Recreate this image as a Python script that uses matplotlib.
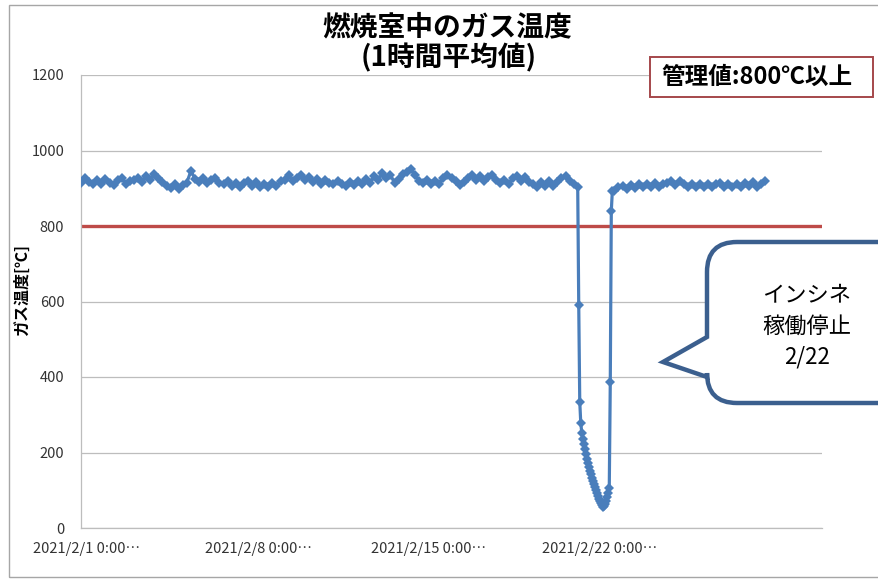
import matplotlib
matplotlib.use("Agg")
import matplotlib.pyplot as plt
from matplotlib.patches import Rectangle, PathPatch
from matplotlib.path import Path
from matplotlib.transforms import ScaledTranslation
import pandas as pd

plt.rcParams['font.family'] = ['Noto Sans CJK JP', 'DejaVu Sans']

# hourly-average gas temperature, hours counted from 2021/2/1 0:00
hours_before = list(range(0, 489, 4))
temp_before = [
    915, 926, 916, 910, 922, 912, 924, 914, 909, 921, 927, 912, 920, 922, 928, 916,
    932, 922, 938, 926, 916, 906, 900, 912, 898, 908, 915, 946, 925, 916, 926, 913,
    922, 928, 915, 910, 920, 906, 915, 904, 914, 920, 907, 916, 903, 912, 904, 914,
    906, 918, 922, 934, 918, 928, 936, 922, 931, 916, 924, 912, 922, 914, 910, 920,
    911, 906, 916, 908, 920, 912, 924, 914, 932, 922, 940, 926, 936, 914, 924, 938,
    944, 950, 936, 920, 914, 922, 910, 920, 912, 928, 936, 926, 920, 908, 916, 928,
    934, 922, 932, 918, 930, 936, 922, 914, 922, 912, 926, 932, 918, 930, 916, 910,
    904, 916, 907, 918, 906, 916, 928, 932, 920, 912, 904,
]
hours_stop = list(range(489, 523))
temp_stop = [
    592, 335, 278, 252, 236, 222, 208, 196, 184, 172, 162, 152, 142, 133, 124, 116,
    108, 100, 92, 85, 78, 72, 66, 60, 56, 58, 64, 72, 82, 94, 106, 388, 840, 892,
]
hours_after = list(range(524, 673, 4))
temp_after = [
    894, 902, 906, 898, 908, 900, 910, 902, 912, 903, 914, 904, 912, 914, 920, 908,
    918, 910, 904, 912, 902, 910, 903, 912, 902, 910, 914, 904, 912, 902, 912, 904,
    914, 906, 916, 904, 912, 920,
]

limit_value = 800
tick_dates = ['2021-02-01', '2021-02-08', '2021-02-15', '2021-02-22']
tick_labels = ['2021/2/1 0:00…', '2021/2/8 0:00…', '2021/2/15 0:00…', '2021/2/22 0:00…']

start = pd.Timestamp('2021-02-01 00:00')
hours = hours_before + hours_stop + hours_after
temps = temp_before + temp_stop + temp_after
times = start + pd.to_timedelta(hours, unit='h')

W, H = 879, 579
fig = plt.figure(figsize=(W / 100, H / 100), dpi=100)
ax = fig.add_axes([81 / W, 1 - 528 / H, (822 - 81) / W, (528 - 75) / H])

ax.plot(times, temps, color='#4a7ebb', lw=2.3, marker='D', ms=5.0,
        markeredgewidth=0, zorder=3)
ax.axhline(limit_value, color='#be4b48', lw=2.4, zorder=2)

ax.set_ylim(0, 1200)
ax.set_yticks(range(0, 1201, 200))
ax.set_xlim(start, start + pd.Timedelta(hours=728))
ax.set_xticks([pd.Timestamp(d) for d in tick_dates])
ax.set_xticklabels(tick_labels)
ax.grid(axis='y', color='#bdbdbd', lw=0.9)
ax.set_axisbelow(True)
ax.tick_params(length=0, labelsize=10.5, labelcolor='#333333')
ax.tick_params(axis='y', pad=12)
ax.tick_params(axis='x', pad=10)
for lab in ax.get_xticklabels():
    lab.set_transform(lab.get_transform() + ScaledTranslation(0.06, 0, fig.dpi_scale_trans))
for side in ['top', 'right']:
    ax.spines[side].set_visible(False)
for side in ['left', 'bottom']:
    ax.spines[side].set_color('#bdbdbd')
    ax.spines[side].set_linewidth(0.9)

# chart area border
fig.patches.append(Rectangle((9 / W, 2 / H), 0.999, (577 - 5) / H,
                             transform=fig.transFigure, fill=False,
                             edgecolor='#a6a6a6', lw=1.0))

fig.text(447 / W, 1 - 27 / H, '燃焼室中のガス温度', ha='center', va='center',
         fontsize=20, fontweight='bold')
fig.text(449 / W, 1 - 58 / H, '(1時間平均値)', ha='center', va='center',
         fontsize=20, fontweight='bold')
fig.text(22 / W, 1 - 290 / H, 'ガス温度[℃]', ha='center', va='center',
         rotation=90, fontsize=11.5, fontweight='bold')

# limit value box
fig.patches.append(Rectangle((650 / W, 1 - 97 / H), (873 - 650) / W, 40 / H,
                             transform=fig.transFigure, facecolor='white',
                             edgecolor='#a5484b', lw=1.4, zorder=5))
fig.text(757 / W, 1 - 77 / H, '管理値:800℃以上', ha='center', va='center',
         fontsize=17, fontweight='bold', zorder=6)

# speech balloon
L, T, B, R, r = 707, 242, 403, 900, 30
pts = [(L + r, T), (R, T), (R, B), (L + r, B), (L, B), (L, B - r),
       (L, 377), (663, 362), (L, 337), (L, T + r), (L, T), (L + r, T), (L + r, T)]
codes = [Path.MOVETO, Path.LINETO, Path.LINETO, Path.LINETO, Path.CURVE3, Path.CURVE3,
         Path.LINETO, Path.LINETO, Path.LINETO, Path.LINETO, Path.CURVE3, Path.CURVE3,
         Path.CLOSEPOLY]
verts = [(x / W, 1 - y / H) for x, y in pts]
fig.patches.append(PathPatch(Path(verts, codes), transform=fig.transFigure,
                             facecolor='white', edgecolor='#3b5f8e', lw=3.2, zorder=5))
fig.text(807 / W, 1 - 326 / H, 'インシネ\n稼働停止\n2/22', ha='center', va='center',
         fontsize=16, linespacing=1.45, zorder=6)

fig.savefig('out.png', dpi=100)
